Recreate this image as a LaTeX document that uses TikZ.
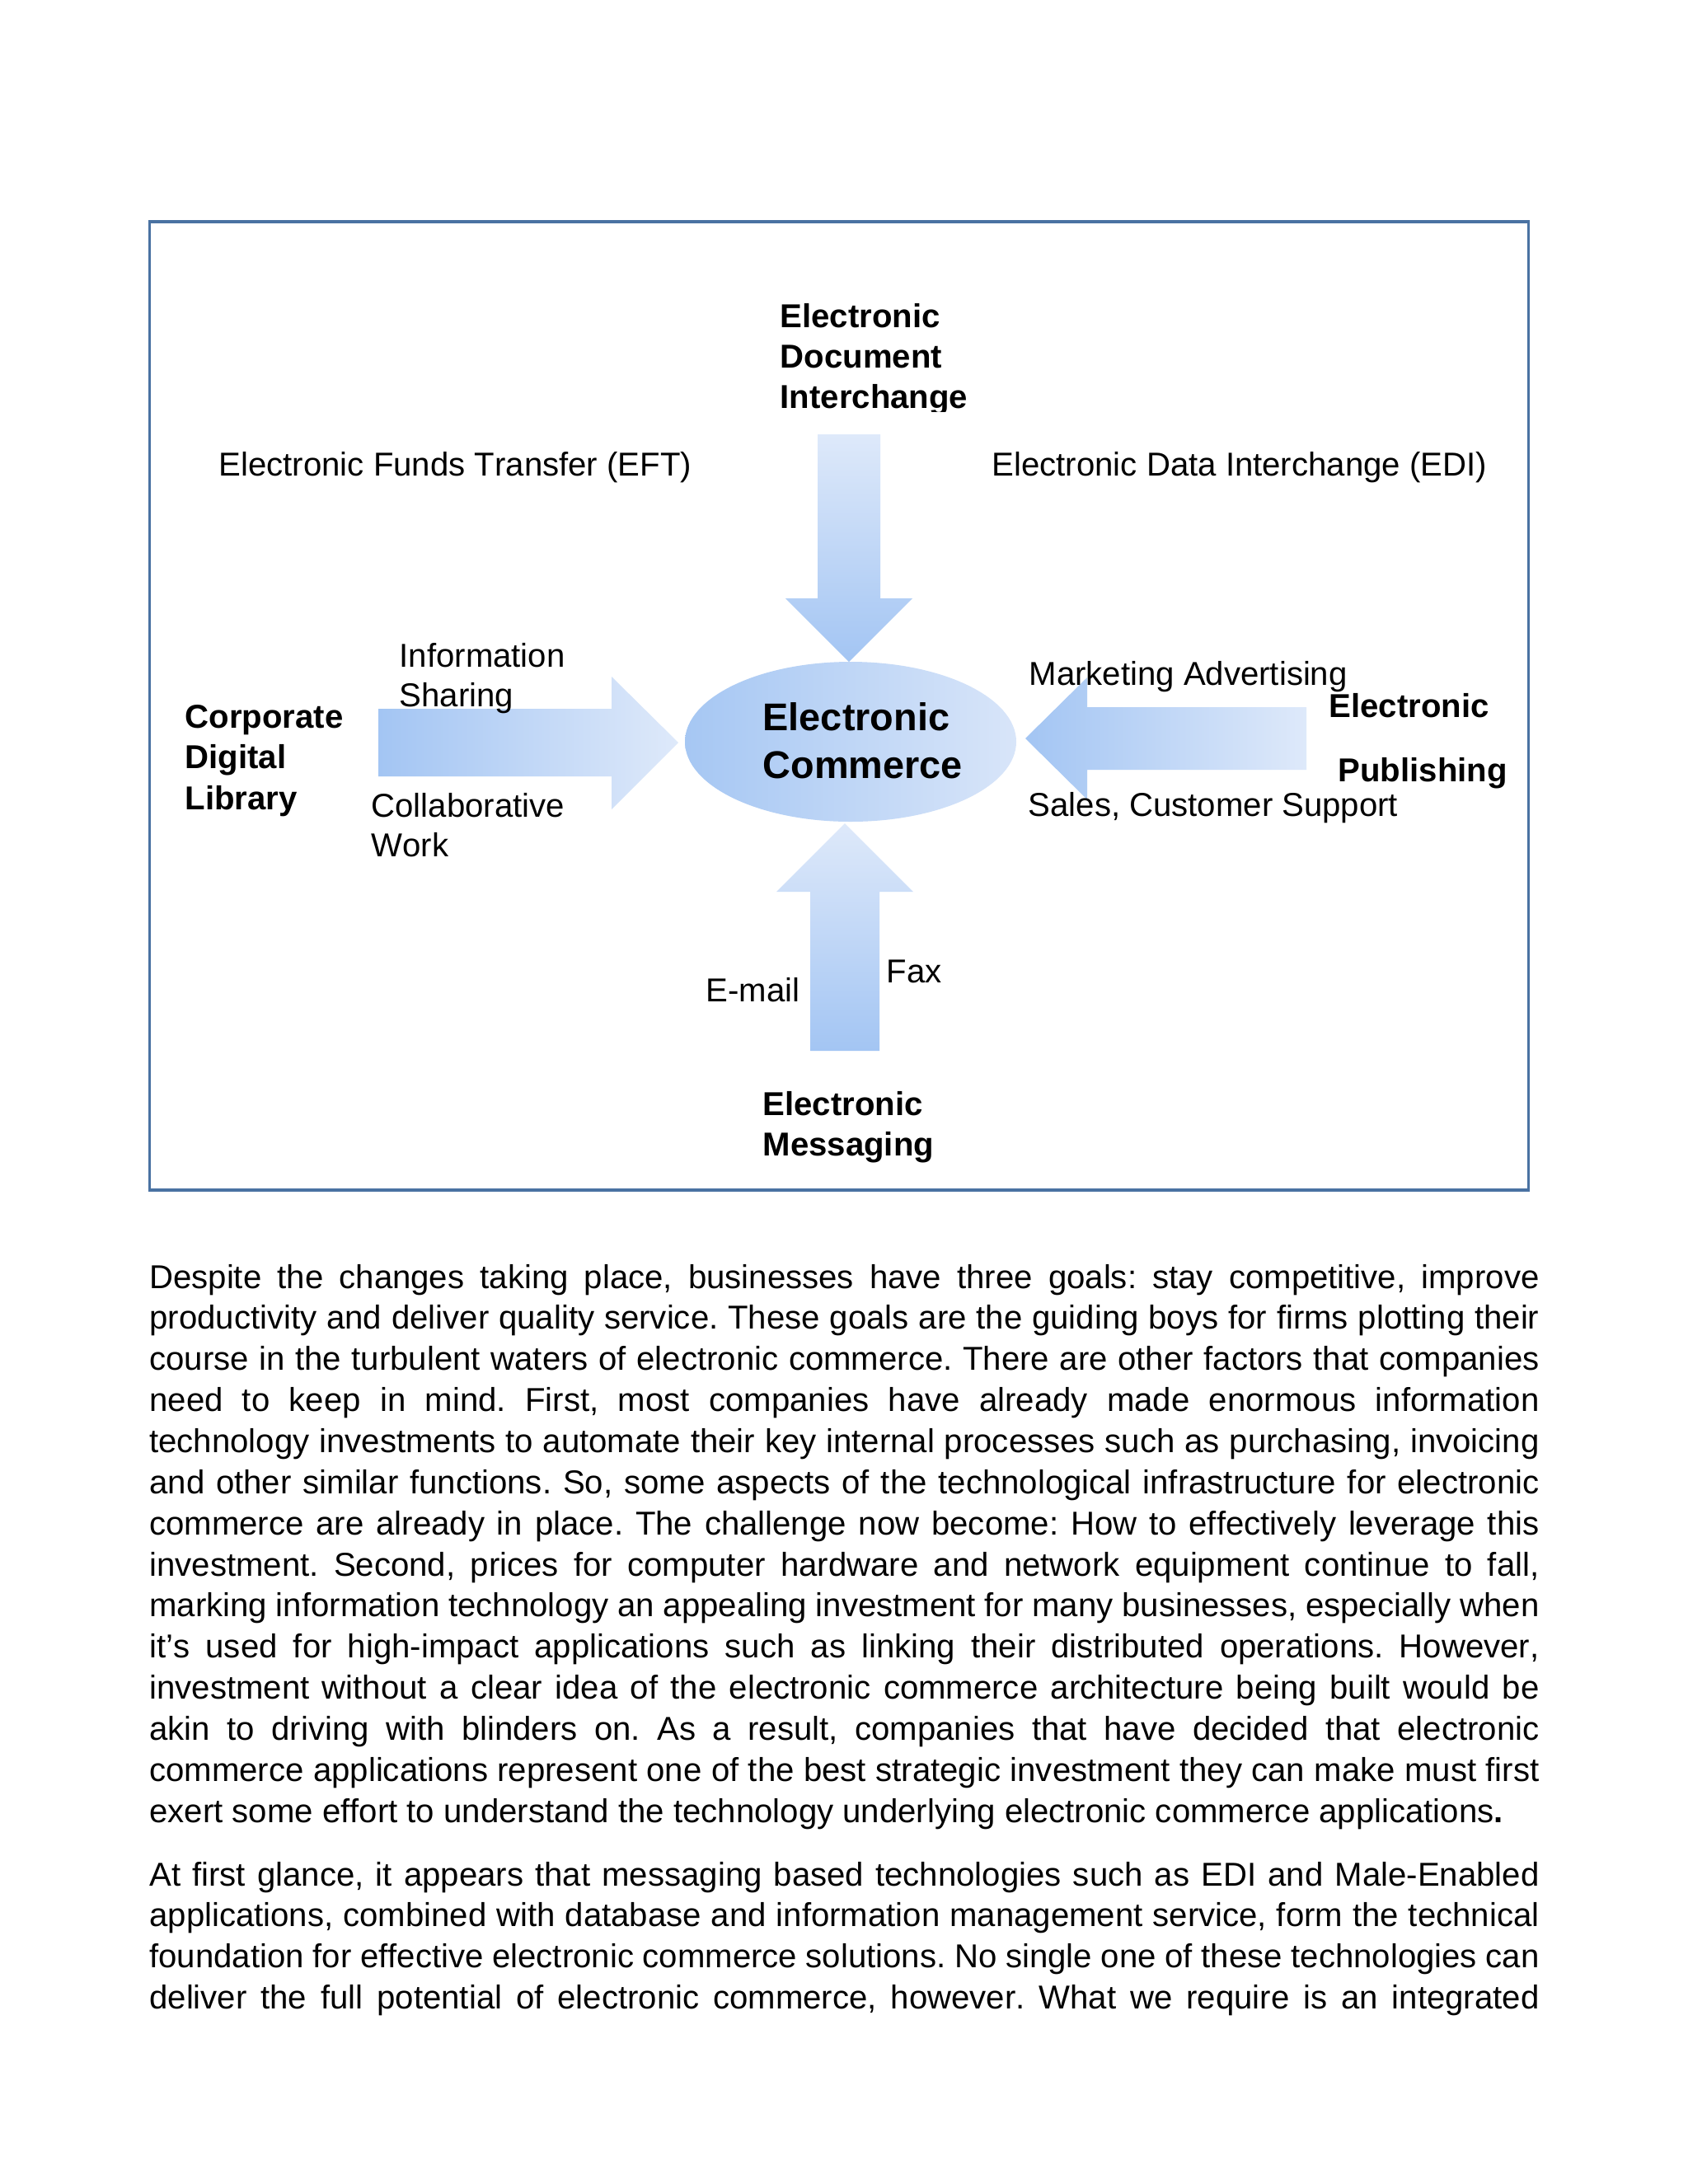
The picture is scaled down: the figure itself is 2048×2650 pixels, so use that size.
\documentclass[tikz,border=0pt]{standalone}
\usepackage{fontspec}
\setmainfont{Liberation Sans}[Kerning=Off,Ligatures=NoCommon]
\usetikzlibrary{shapes.geometric}
\definecolor{framec}{RGB}{74,114,162}
\definecolor{bdark}{RGB}{163,197,243}
\definecolor{blight}{RGB}{222,233,250}
\definecolor{edark}{RGB}{166,199,243}
\definecolor{elight}{RGB}{216,229,249}
\newcommand\Row[1]{\hbox{#1}}
\newcommand\JL[1]{\hbox to\hsize{#1}}
\newcommand\Para[1]{\vtop{\hsize=504bp\relax#1}}
\begin{document}
\begin{tikzpicture}[x=0.3pt,y=-0.3pt,
  lbl/.style={anchor=base west,inner sep=0pt,font=\fontsize{12bp}{14.7pt}\selectfont},
  blbl/.style={anchor=base west,inner sep=0pt,font=\fontsize{12bp}{14.7pt}\selectfont\bfseries},
  body/.style={anchor=base west,inner sep=0pt,font=\fontsize{12bp}{14.96pt}\selectfont\frenchspacing},
  hgrad/.style={left color=bdark,right color=blight},
  vgrad/.style={top color=blight,bottom color=bdark}
]
\useasboundingbox (0,0) rectangle (2048,2650);
\fill[white] (0,0) rectangle (2048,2650);
\draw[framec,line width=1.05pt] (181.5,269) rectangle (1854.5,1444);

% central ellipse
\node[ellipse,minimum width=120.6pt,minimum height=58.2pt,inner sep=0pt,
      left color=edark,right color=elight] (ec) at (1032,900) {};

% block arrows
\shade[vgrad] (992,527) -- (1068,527) -- (1068,726) -- (1107,726) -- (1030,803)
   -- (953,726) -- (992,726) -- cycle;
\shade[hgrad] (459,860) -- (742,860) -- (742,821) -- (823,901) -- (742,982)
   -- (742,942) -- (459,942) -- cycle;
\shade[hgrad] (1585,858) -- (1319,858) -- (1319,822) -- (1244,896) -- (1319,970)
   -- (1319,934) -- (1585,934) -- cycle;
\shade[vgrad] (983,1275) -- (983,1082) -- (942,1082) -- (1025,999) -- (1108,1082)
   -- (1067,1082) -- (1067,1275) -- cycle;

% labels
\begin{scope}
\clip (900,340) rectangle (1200,499);
\node[blbl] (edoc) at (946,397) {\vtop{\Row{Electronic}\Row{Document}\Row{Interchange}}};
\end{scope}
\node[lbl] (eft) at (265,577) {Electronic Funds Transfer (EFT)};
\node[lbl] (edi) at (1203,577) {Electronic Data Interchange (EDI)};
\node[lbl,font=\fontsize{12bp}{14.4pt}\selectfont] (info) at (484,809) {\vtop{\Row{Information}\Row{Sharing}}};
\node[lbl,font=\fontsize{12bp}{14.4pt}\selectfont] (collab) at (450,991) {\vtop{\Row{Collaborative}\Row{Work}}};
\node[blbl,font=\fontsize{12bp}{14.85pt}\selectfont\bfseries] (cdl) at (224,883) {\vtop{\Row{Corporate}\Row{Digital}\Row{Library}}};
\node[blbl,font=\fontsize{14bp}{17.4pt}\selectfont\bfseries] (ectext) at (925,886) {\vtop{\Row{Electronic}\Row{Commerce}}};
\node[lbl] (mkt) at (1248,831) {Marketing Advertising};
\node[lbl] (sales) at (1247,990) {Sales, Customer Support};
\node[blbl] (epub1) at (1612,870) {Electronic};
\node[blbl] (epub2) at (1623,948) {Publishing};
\node[lbl] (fax) at (1075,1192) {Fax};
\node[lbl] (email) at (856,1215) {E-mail};
\node[blbl] (emsg) at (925,1353) {\vtop{\Row{Electronic}\Row{Messaging}}};

% body text
\node[body] (para1) at (180.7,1563) {\Para{%
\JL{Despite the changes taking place, businesses have three goals: stay competitive, improve}
\JL{productivity and deliver quality service. These goals are the guiding boys for firms plotting their}
\JL{course in the turbulent waters of electronic commerce. There are other factors that companies}
\JL{need to keep in mind. First, most companies have already made enormous information}
\JL{technology investments to automate their key internal processes such as purchasing, invoicing}
\JL{and other similar functions. So, some aspects of the technological infrastructure for electronic}
\JL{commerce are already in place. The challenge now become: How to effectively leverage this}
\JL{investment. Second, prices for computer hardware and network equipment continue to fall,}
\JL{marking information technology an appealing investment for many businesses, especially when}
\JL{it’s used for high-impact applications such as linking their distributed operations. However,}
\JL{investment without a clear idea of the electronic commerce architecture being built would be}
\JL{akin to driving with blinders on. As a result, companies that have decided that electronic}
\JL{commerce applications represent one of the best strategic investment they can make must first}
\Row{exert some effort to understand the technology underlying electronic commerce applications\textbf{.}}}};
\node[body] (para2) at (180.7,2288) {\Para{%
\JL{At first glance, it appears that messaging based technologies such as EDI and Male-Enabled}
\JL{applications, combined with database and information management service, form the technical}
\JL{foundation for effective electronic commerce solutions. No single one of these technologies can}
\JL{deliver the full potential of electronic commerce, however. What we require is an integrated}}};
\end{tikzpicture}
\end{document}
